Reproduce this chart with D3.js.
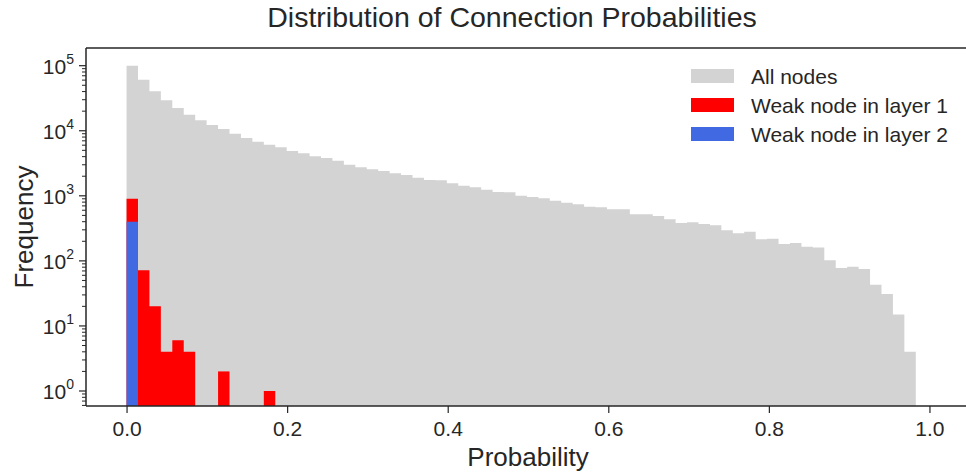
<!DOCTYPE html>
<html>
<head>
<meta charset="utf-8">
<script src="https://cdn.jsdelivr.net/npm/d3@7"></script>
<style>
  html, body { margin: 0; padding: 0; background: #fff; }
  svg { display: block; font-family: "Liberation Sans", Arial, sans-serif; }
</style>
</head>
<body>
<div id="chart"></div>
<script>
// histogram counts per bin (69 equal bins from 0 to maxProb)
const maxProb = 0.983;
const allNodes = [
  100000, 61000, 40400, 29400, 22400, 17600, 14500, 12300, 10600, 9000,
  7740, 6800, 6100, 5570, 4890, 4500, 4050, 3800, 3470, 3010,
  2740, 2560, 2410, 2220, 2090, 1900, 1750, 1730, 1560, 1430,
  1350, 1240, 1145, 1130, 1005, 959, 916, 842, 784, 741,
  681, 667, 621, 621, 520, 520, 490, 435, 382, 392,
  369, 352, 295, 265, 281, 215, 219, 182, 188, 165,
  160, 102, 78, 81, 75, 43, 31, 15, 4
];
const weakLayer1 = [903, 72, 20, 4, 6, 4, 0, 0, 2, 0, 0, 0, 1];
const weakLayer2 = [400];

const seriesNames  = ['All nodes', 'Weak node in layer 1', 'Weak node in layer 2'];
const seriesColors = ['#d3d3d3', '#ff0000', '#4169e1'];
const xTicks = [0, 0.2, 0.4, 0.6, 0.8, 1.0];
const yTicks = [1, 10, 100, 1000, 10000, 100000];

const W = 966, H = 474;
const M = { left: 86, top: 48, bottom: 406, right: 970 };
const nBins = allNodes.length;
const binW = maxProb / nBins;
const textColor = '#262626';

const x = d3.scaleLinear().domain([-0.0505, 1.0505]).range([M.left, M.right]);
const y = d3.scaleLog().domain([0.588, 1.87e5]).range([M.bottom, M.top]);

const svg = d3.select('#chart').append('svg')
  .attr('width', W).attr('height', H);

const toBins = counts => counts
  .map((c, i) => ({ x0: i * binW, x1: (i + 1) * binW, c }))
  .filter(d => d.c > 0);

// each histogram as one step outline so bars have no seams
const stepArea = d3.area()
  .x(d => x(d[0]))
  .y0(M.bottom)
  .y1(d => y(d[1]))
  .curve(d3.curveStepAfter);

[allNodes, weakLayer1, weakLayer2].forEach((counts, k) => {
  const g = svg.append('g');
  // group contiguous non-zero bins into runs
  let run = [];
  const runs = [];
  toBins(counts).forEach((d, i, arr) => {
    if (run.length && Math.abs(run[run.length - 1].x1 - d.x0) > 1e-9) {
      runs.push(run); run = [];
    }
    run.push(d);
  });
  if (run.length) runs.push(run);
  runs.forEach(r => {
    const pts = r.map(d => [d.x0, d.c]);
    pts.push([r[r.length - 1].x1, r[r.length - 1].c]);
    g.append('path').datum(pts).attr('d', stepArea).attr('fill', seriesColors[k]);
  });
});

// spines
const spine = (x1, y1, x2, y2) => svg.append('line')
  .attr('x1', x1).attr('y1', y1).attr('x2', x2).attr('y2', y2)
  .attr('stroke', textColor).attr('stroke-width', 1.5);
spine(M.left, M.top, M.right, M.top);
spine(M.left, M.bottom, M.right, M.bottom);
spine(M.left, M.top, M.left, M.bottom);

// x axis
const xAxis = svg.append('g')
  .attr('transform', `translate(0,${M.bottom})`)
  .call(d3.axisBottom(x).tickValues(xTicks).tickFormat(d3.format('.1f')).tickSize(7).tickPadding(8));
xAxis.select('.domain').remove();
xAxis.selectAll('line').attr('stroke', textColor).attr('stroke-width', 1.2);
xAxis.selectAll('text').attr('fill', textColor).attr('font-size', 21)
  .attr('font-family', '"Liberation Sans", Arial, sans-serif');

// y axis: minor ticks
const minor = [];
for (let e = -1; e <= 5; e++) {
  for (let m = 2; m <= 9; m++) {
    const v = m * Math.pow(10, e);
    if (v >= y.domain()[0] && v <= y.domain()[1]) minor.push(v);
  }
}
svg.append('g').selectAll('line').data(minor).join('line')
  .attr('x1', M.left - 4).attr('x2', M.left)
  .attr('y1', d => y(d)).attr('y2', d => y(d))
  .attr('stroke', textColor).attr('stroke-width', 1);

const yMajor = svg.append('g').selectAll('g').data(yTicks).join('g')
  .attr('transform', d => `translate(0,${y(d)})`);
yMajor.append('line').attr('x1', M.left - 7).attr('x2', M.left)
  .attr('stroke', textColor).attr('stroke-width', 1.2);
const yLab = yMajor.append('text')
  .attr('x', M.left - 12).attr('y', 8)
  .attr('text-anchor', 'end').attr('fill', textColor).attr('font-size', 21);
yLab.append('tspan').text('10');
yLab.append('tspan').attr('font-size', 14).attr('dy', -10)
  .text(d => Math.round(Math.log10(d)));

// labels
svg.append('text').attr('x', 512).attr('y', 27)
  .attr('text-anchor', 'middle').attr('fill', textColor).attr('font-size', 28.5)
  .text('Distribution of Connection Probabilities');
svg.append('text').attr('x', (x(0) + x(1)) / 2).attr('y', 466)
  .attr('text-anchor', 'middle').attr('fill', textColor).attr('font-size', 26)
  .text('Probability');
svg.append('text')
  .attr('transform', `translate(33,${(M.top + M.bottom) / 2}) rotate(-90)`)
  .attr('text-anchor', 'middle').attr('fill', textColor).attr('font-size', 26)
  .text('Frequency');

// legend
const lg = svg.append('g').attr('transform', 'translate(691,69)');
const items = lg.selectAll('g').data(seriesNames).join('g')
  .attr('transform', (d, i) => `translate(0,${i * 29})`);
items.append('rect').attr('width', 43).attr('height', 14)
  .attr('fill', (d, i) => seriesColors[i]);
items.append('text').attr('x', 60).attr('y', 14.5)
  .attr('fill', textColor).attr('font-size', 21).text(d => d);
</script>
</body>
</html>
